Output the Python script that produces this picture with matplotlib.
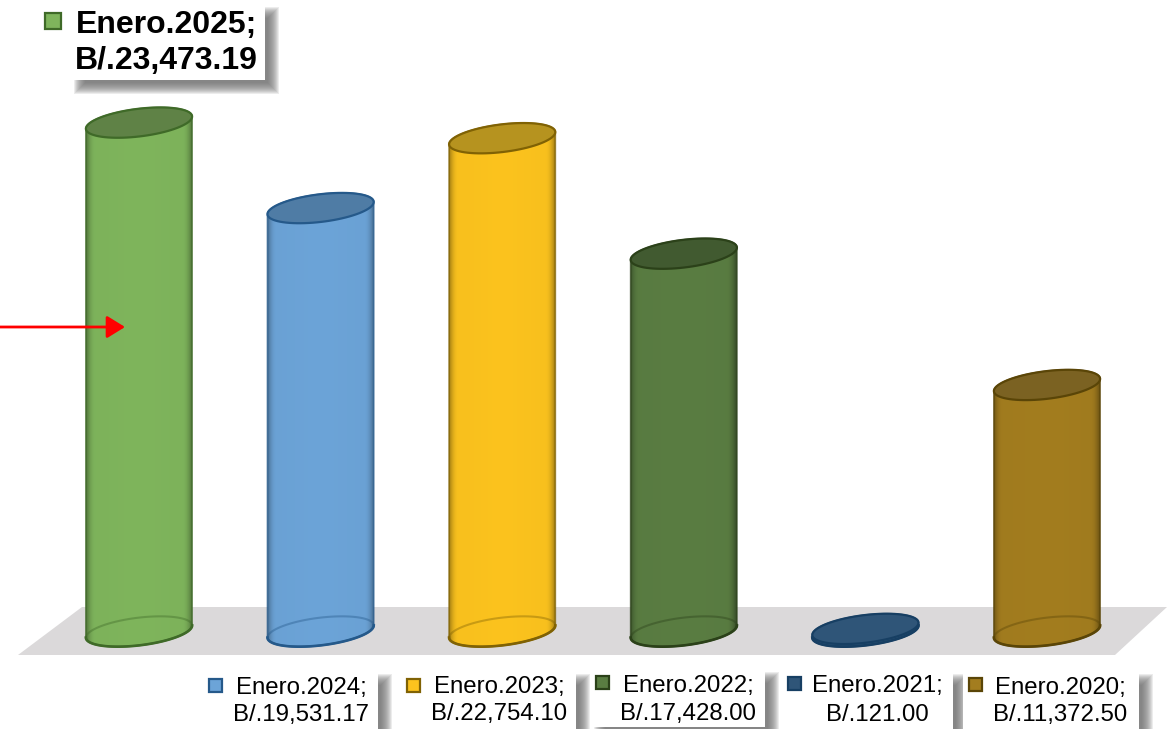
# -*- coding: utf-8 -*-
import numpy as np
from matplotlib import pyplot as plt
from matplotlib.patches import Polygon, Rectangle, PathPatch
from matplotlib.path import Path

plt.rcParams['font.family'] = ['Liberation Sans', 'DejaVu Sans']

# =============================================================================
# Data
# =============================================================================
periods = ['Enero.2025', 'Enero.2024', 'Enero.2023', 'Enero.2022', 'Enero.2021', 'Enero.2020']
amounts = [23473.19, 19531.17, 22754.10, 17428.00, 121.00, 11372.50]
amount_labels = ['B/.23,473.19', 'B/.19,531.17', 'B/.22,754.10', 'B/.17,428.00', 'B/.121.00', 'B/.11,372.50']

body_colors = ['#7FB55C', '#6CA4D8', '#FCC31E', '#5A7D42', '#2F5578', '#A37D1F']
top_colors = ['#5F8246', '#4F7CA5', '#B6931F', '#415A30', '#2F5578', '#7B6222']
edge_colors = ['#3F6A28', '#25598A', '#806204', '#2B4119', '#173F63', '#5A4507']

# =============================================================================
# Layout, everything in pixels of the 1171x729 picture
# =============================================================================
W, H = 1171, 729
X0, DX = 139.0, 181.6      # pixel of the first category, pixels per category
Y0, DY = 631.5, 0.02168    # pixel of the zero line, pixels per unit
A, B, TILT = 53.5, 13.8, np.radians(7)

fig = plt.figure(figsize=(W / 100, H / 100), dpi=100)
ax = fig.add_axes([0, 0, 1, 1])
ax.set_xlim(-X0 / DX, (W - X0) / DX)
ax.set_ylim((Y0 - H) / DY, Y0 / DY)
ax.axis('off')

# overlay axes in pixels for floor, boxes and labels
pix = fig.add_axes([0, 0, 1, 1], zorder=5)
pix.set_xlim(0, W)
pix.set_ylim(H, 0)
pix.axis('off')
pix.patch.set_alpha(0)


def ellipse(x, y, t0, t1, n=80):
    # points of a tilted ellipse around category x and value y
    t = np.linspace(t0, t1, n)
    ex = A * np.cos(t) * np.cos(TILT) - B * np.sin(t) * np.sin(TILT)
    ey = A * np.cos(t) * np.sin(TILT) + B * np.sin(t) * np.cos(TILT)
    return np.column_stack([x + ex / DX, y + ey / DY])


def shade(color, factor):
    rgb = np.array(plt.matplotlib.colors.to_rgb(color))
    return np.clip(rgb * factor, 0, 1)


def cylinder(x, value, body, top, edge):
    t0 = np.arctan2(-B * np.sin(TILT), A * np.cos(TILT))
    lower = ellipse(x, 0, t0 + np.pi, t0 + 2 * np.pi)
    outline = np.vstack([lower, ellipse(x, value, t0, t0 + np.pi)])
    clip = PathPatch(Path(np.vstack([outline, outline[:1]])), facecolor='none', edgecolor='none')
    ax.add_patch(clip)

    # body, dark soft band on both sides
    u = np.linspace(0, 1, 160)
    band = 0.5 * np.clip((0.1 - u) / 0.1, 0, 1) ** 2 + 0.55 * np.clip((u - 0.89) / 0.11, 0, 1) ** 2
    factor = 1.0 - band - 0.04 * np.abs(u - 0.5)
    grad = np.array([shade(body, f) for f in factor])[None, :, :]
    im = ax.imshow(grad, extent=[x - (A + 2) / DX, x + (A + 2) / DX, -30 / DY, (value + 30 / DY)],
                   aspect='auto', zorder=2, interpolation='bilinear')
    im.set_clip_path(clip)

    # bottom rim seen through the body
    ax.add_patch(Polygon(ellipse(x, 0, 0, 2 * np.pi), closed=True, facecolor='none',
                         edgecolor=edge, alpha=0.4, lw=1.5, zorder=3))
    ax.add_patch(Polygon(outline, closed=True, facecolor='none', edgecolor=edge, alpha=0.75, lw=1.2, zorder=4))
    ax.plot(lower[:, 0], lower[:, 1], color=edge, lw=1.9, zorder=4, scalex=False, scaley=False)
    ax.add_patch(Polygon(ellipse(x, value, 0, 2 * np.pi), closed=True, facecolor=top,
                         edgecolor=edge, lw=1.6, zorder=5))


def shadow_box(x0, y0, x1, y1, dx=8, dy=8, blur=12):
    # soft grey shadow, stacked rectangles, then the white box over it
    for i in range(blur):
        inset = i - blur / 2
        pix.add_patch(Rectangle((x0 + dx + inset, y0 + dy + inset),
                                x1 - x0 - 2 * inset, y1 - y0 - 2 * inset,
                                facecolor='#6e6e6e', edgecolor='none', alpha=0.13, zorder=1))
    pix.add_patch(Rectangle((x0, y0), x1 - x0, y1 - y0, facecolor='white', edgecolor='none', zorder=2))


def label(idx, box, marker, text_x, y1, y2, size, bold=False):
    shadow_box(*box)
    mx, my, ms = marker
    pix.add_patch(Rectangle((mx - ms / 2, my - ms / 2), ms, ms, facecolor=body_colors[idx],
                            edgecolor=edge_colors[idx], lw=1.6, zorder=3))
    weight = 'bold' if bold else 'normal'
    pix.text(text_x, y1, periods[idx] + ';', ha='center', va='center', fontsize=size,
             fontweight=weight, color='black', zorder=4)
    pix.text(text_x, y2, amount_labels[idx], ha='center', va='center', fontsize=size,
             fontweight=weight, color='black', zorder=4)


# floor under the columns
ax.add_patch(Polygon(np.column_stack([(np.array([82, 1167, 1115, 18]) - X0) / DX,
                                      (Y0 - np.array([607, 607, 655, 655])) / DY]),
                     closed=True, facecolor='#DBD9DA', edgecolor='none', zorder=1))

for i, value in enumerate(amounts):
    cylinder(i, value, body_colors[i], top_colors[i], edge_colors[i])

ax.set_xlim(-X0 / DX, (W - X0) / DX)
ax.set_ylim((Y0 - H) / DY, Y0 / DY)

# =============================================================================
# Labels
# =============================================================================
label(0, (72, 5, 265, 80), (53, 21, 16), 166, 25, 61, 23, bold=True)
label(1, (204, 672, 378, 735), (215, 685, 13), 301, 688, 715, 17.3)
label(2, (403, 672, 576, 735), (413, 685, 13), 499, 687, 714, 17.3)
label(3, (592, 670, 765, 727), (602, 682, 13), 688, 686, 714, 17.3)
label(4, (785, 672, 953, 735), (794, 683, 13), 877, 686, 715, 17.3)
label(5, (963, 672, 1139, 735), (975, 684, 13), 1060, 688, 715, 17.3)

# red arrow pointing at the first column
pix.annotate('', xy=(125, 327), xytext=(-2, 327),
             arrowprops=dict(arrowstyle='-|>,head_length=0.55,head_width=0.34', color='#FF0000', lw=2,
                             mutation_scale=20, shrinkA=0, shrinkB=0), zorder=6)

plt.savefig('out.png', dpi=100)
